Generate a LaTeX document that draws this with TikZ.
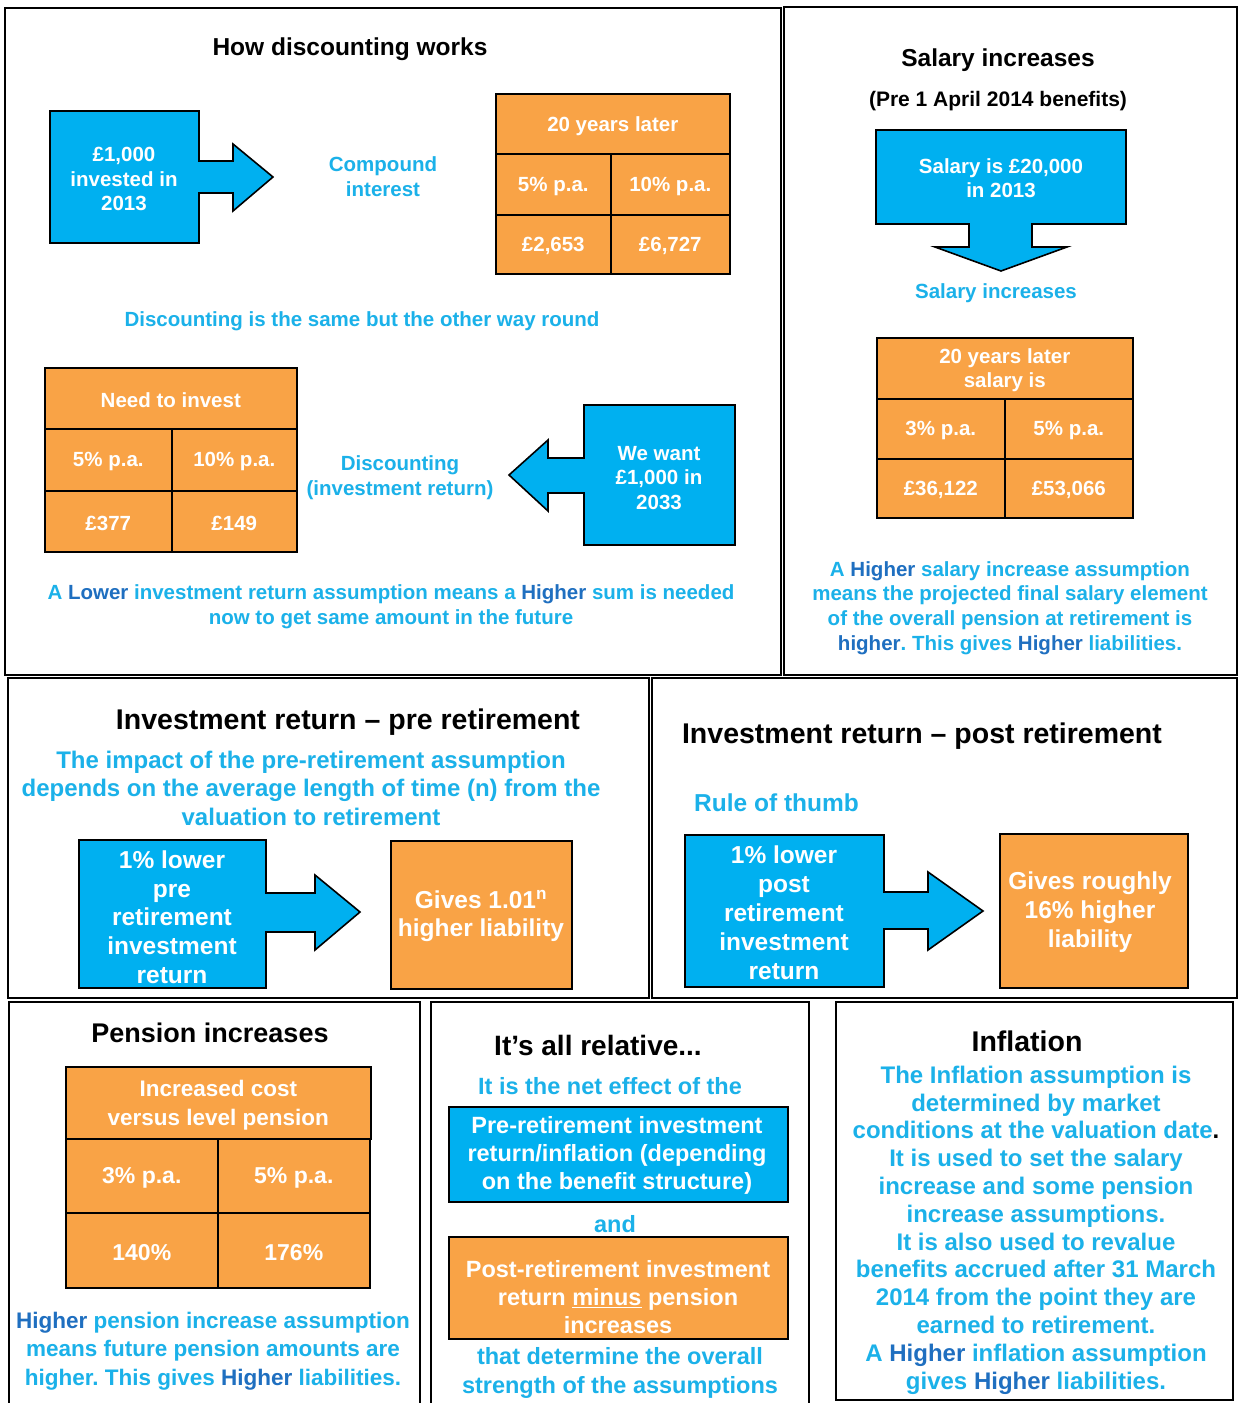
\documentclass[tikz,border=0pt]{standalone}
\usepackage{fontspec}
\setmainfont{Liberation Sans}
\frenchspacing
\definecolor{bfill}{HTML}{00B0F0}
\definecolor{ofill}{HTML}{F9A346}
\definecolor{cyanT}{HTML}{1BB1E9}
\definecolor{darkB}{HTML}{1F6FC0}
\newcommand\fs[2]{\fontsize{#1}{#2}\selectfont\bfseries}
\tikzset{
  panel/.style={draw=black, line width=2.4pt},
  shapeb/.style={draw=black, line width=1.6pt, fill=bfill},
  shapeo/.style={draw=black, line width=1.6pt, fill=ofill},
  cellbox/.style={shapeo, anchor=north west, inner sep=0pt},
  wtxt/.style={text=white, align=center, inner sep=0pt, yshift=-2pt},
  ctxt/.style={text=cyanT, align=center, inner sep=0pt, yshift=-2pt},
  ktxt/.style={text=black, align=center, inner sep=0pt, yshift=-2pt},
  celltext/.style={font=\fs{20.5}{24.7}},
}
\newcommand\tcell[7][]{\node[cellbox,minimum width={(#5)-(#3)},minimum height={(#6)-(#4)}] (#2) at (#3,#4) {};
  \node[wtxt,celltext,#1] (#2t) at (#2.center) {#7};}
\begin{document}
\begin{tikzpicture}[x=1pt,y=-1pt]
\path[use as bounding box, fill=white] (0,0) rectangle (1239,1403);

% ---------------- panels ----------------
\draw[panel] (5,8) rectangle (781,675);
\draw[panel] (784,7) rectangle (1237,675);
\draw[panel] (8,678) rectangle (649,998);
\draw[panel] (652,678) rectangle (1237,998);
\draw[panel] (9,1420) -- (9,1002) -- (420,1002) -- (420,1420);
\draw[panel] (431,1420) -- (431,1002) -- (809,1002) -- (809,1420);
\draw[panel] (836,1002) rectangle (1233,1400);

% ---------------- How discounting works ----------------
\node[ktxt, font=\fs{24.5}{28}] (t1) at (350,47) {How discounting works};
\draw[shapeb] (50,111) -- (199,111) -- (199,161) -- (233,161) -- (233,144) -- (273,177) -- (233,211) -- (233,193) -- (199,193) -- (199,243) -- (50,243) -- cycle;
\node[wtxt, font=\fs{20.5}{24.5}] (a1) at (124,177) {£1,000\\invested in\\2013};
\node[ctxt, font=\fs{20.5}{25}] (ci) at (383,175) {Compound\\interest};
\tcell{h1}{495}{93}{729}{153}{20 years later}
\tcell{c11}{495}{153}{610}{214}{5\% p.a.}
\tcell{c12}{610}{153}{729}{214}{10\% p.a.}
\tcell{c21}{495}{214}{610}{273}{£2,653}
\tcell{c22}{610}{214}{729}{273}{£6,727}
\node[ctxt, font=\fs{20.5}{25}] (dsame) at (362,319) {Discounting is the same but the other way round};
\tcell{h2}{44}{367}{296}{428}{Need to invest}
\tcell{d11}{44}{428}{171}{490}{5\% p.a.}
\tcell{d12}{171}{428}{296}{490}{10\% p.a.}
\tcell{d21}{44}{490}{171}{551}{£377}
\tcell{d22}{171}{490}{296}{551}{£149}
\node[ctxt, font=\fs{20.5}{25}] (dinv) at (400,476) {Discounting\\(investment return)};
\draw[shapeb] (735,405) -- (584,405) -- (584,458) -- (548,458) -- (548,440) -- (509,475) -- (548,511) -- (548,493) -- (584,493) -- (584,545) -- (735,545) -- cycle;
\node[wtxt, font=\fs{20.5}{24.5}] (a2) at (659,476) {We want\\£1,000 in\\2033};
\node[ctxt, font=\fs{20.5}{25}] (low) at (391,605) {A {\color{darkB}Lower} investment return assumption means a {\color{darkB}Higher} sum is needed\\now to get same amount in the future};

% ---------------- Salary increases ----------------
\node[ktxt, font=\fs{24.5}{28}] (t2) at (998,58) {Salary increases};
\node[ktxt, font=\fs{21}{25}] (t2b) at (998,99) {(Pre 1 April 2014 benefits)};
\draw[shapeb] (876,130) -- (1126,130) -- (1126,224) -- (1032,224) -- (1032,247) -- (1067,247) -- (1001,271) -- (935,247) -- (969,247) -- (969,224) -- (876,224) -- cycle;
\node[wtxt, font=\fs{20.5}{24.5}] (a3) at (1001,176) {Salary is £20,000\\in 2013};
\node[ctxt, font=\fs{20.5}{25}] (sinc) at (996,291) {Salary increases};
\tcell{h3}{876}{337}{1132}{398}{20 years later\\salary is}
\tcell{e11}{876}{398}{1004}{458}{3\% p.a.}
\tcell{e12}{1004}{398}{1132}{458}{5\% p.a.}
\tcell{e21}{876}{458}{1004}{517}{£36,122}
\tcell{e22}{1004}{458}{1132}{517}{£53,066}
\node[ctxt, font=\fs{20.5}{24.7}] (shigh) at (1010,606) {A {\color{darkB}Higher} salary increase assumption\\means the projected final salary element\\of the overall pension at retirement is\\{\color{darkB}higher}. This gives {\color{darkB}Higher} liabilities.};

% ---------------- Investment return - pre retirement ----------------
\node[ktxt, font=\fs{28.5}{32}] (t3) at (348,720) {Investment return – pre retirement};
\node[ctxt, font=\fs{24}{28.5}] (imp) at (311,786) {The impact of the pre-retirement assumption\\depends on the average length of time (n) from the\\valuation to retirement};
\draw[shapeb] (79,840) -- (266,840) -- (266,893) -- (315,893) -- (315,875) -- (360,912) -- (315,950) -- (315,932) -- (266,932) -- (266,988) -- (79,988) -- cycle;
\node[wtxt, font=\fs{24.5}{28.75}] (a4) at (172,915) {1\% lower\\pre\\retirement\\investment\\return};
\node[shapeo, anchor=north west, minimum width=181, minimum height=148, inner sep=0pt] (g1) at (390,840) {};
\node[wtxt, font=\fs{24.5}{28.5}] (g1t) at (481,914) {Gives 1.01\textsuperscript{n}\\higher liability};

% ---------------- Investment return - post retirement ----------------
\node[ktxt, font=\fs{28.5}{32}] (t4) at (922,734) {Investment return – post retirement};
\node[ctxt, font=\fs{24.5}{28}, anchor=west] (rule) at (694,801) {Rule of thumb};
\draw[shapeb] (685,835) -- (884,835) -- (884,892) -- (928,892) -- (928,872) -- (983,911) -- (928,950) -- (928,929) -- (884,929) -- (884,987) -- (685,987) -- cycle;
\node[wtxt, font=\fs{24.5}{29}] (a5) at (784,911) {1\% lower\\post\\retirement\\investment\\return};
\node[shapeo, anchor=north west, minimum width=188, minimum height=154, inner sep=0pt] (g2) at (999,833) {};
\node[wtxt, font=\fs{24.5}{29}] (g2t) at (1090,910) {Gives roughly\\16\% higher\\liability};

% ---------------- Pension increases ----------------
\node[ktxt, font=\fs{27}{30}] (t5) at (210,1031) {Pension increases};
\tcell[font=\fs{22.5}{29}]{h5}{65}{1066}{370}{1138}{Increased cost\\versus level pension}
\tcell[font=\fs{23}{28}]{p11}{65}{1138}{217}{1212}{3\% p.a.}
\tcell[font=\fs{23}{28}]{p12}{217}{1138}{369}{1212}{5\% p.a.}
\tcell[font=\fs{23}{28}]{p21}{65}{1212}{217}{1287}{140\%}
\tcell[font=\fs{23}{28}]{p22}{217}{1212}{369}{1287}{176\%}
\node[ctxt, font=\fs{22.5}{28.3}] (phigh) at (213,1349) {{\color{darkB}Higher} pension increase assumption\\means future pension amounts are\\higher. This gives {\color{darkB}Higher} liabilities.};

% ---------------- It's all relative ----------------
\node[ktxt, font=\fs{28}{32}] (t6) at (598,1043) {It’s all relative...};
\node[ctxt, font=\fs{23.5}{28}] (net) at (610,1084) {It is the net effect of the};
\node[shapeb, anchor=north west, minimum width=339, minimum height=95, inner sep=0pt] (pre) at (448,1106) {};
\node[wtxt, font=\fs{23.5}{28}] (pret) at (617,1153) {Pre-retirement investment\\return/inflation (depending\\on the benefit structure)};
\node[ctxt, font=\fs{23.5}{28}] (and) at (615,1222) {and};
\node[shapeo, anchor=north west, minimum width=339, minimum height=102, inner sep=0pt] (post) at (448,1236) {};
\node[wtxt, font=\fs{23.5}{28}] (postt) at (618,1295) {Post-retirement investment\\return \underline{minus} pension\\increases};
\node[ctxt, font=\fs{23.5}{28.5}] (det) at (620,1371) {that determine the overall\\strength of the assumptions};

% ---------------- Inflation ----------------
\node[ktxt, font=\fs{28.5}{32}] (t7) at (1027,1039) {Inflation};
\node[ctxt, font=\fs{24}{27.8}] (infl) at (1036,1228) {The Inflation assumption is\\determined by market\\conditions at the valuation date{\color{black}.}\\It is used to set the salary\\increase and some pension\\increase assumptions.\\It is also used to revalue\\benefits accrued after 31 March\\2014 from the point they are\\earned to retirement.\\A {\color{darkB}Higher} inflation assumption\\gives {\color{darkB}Higher} liabilities.};
\end{tikzpicture}
\end{document}
